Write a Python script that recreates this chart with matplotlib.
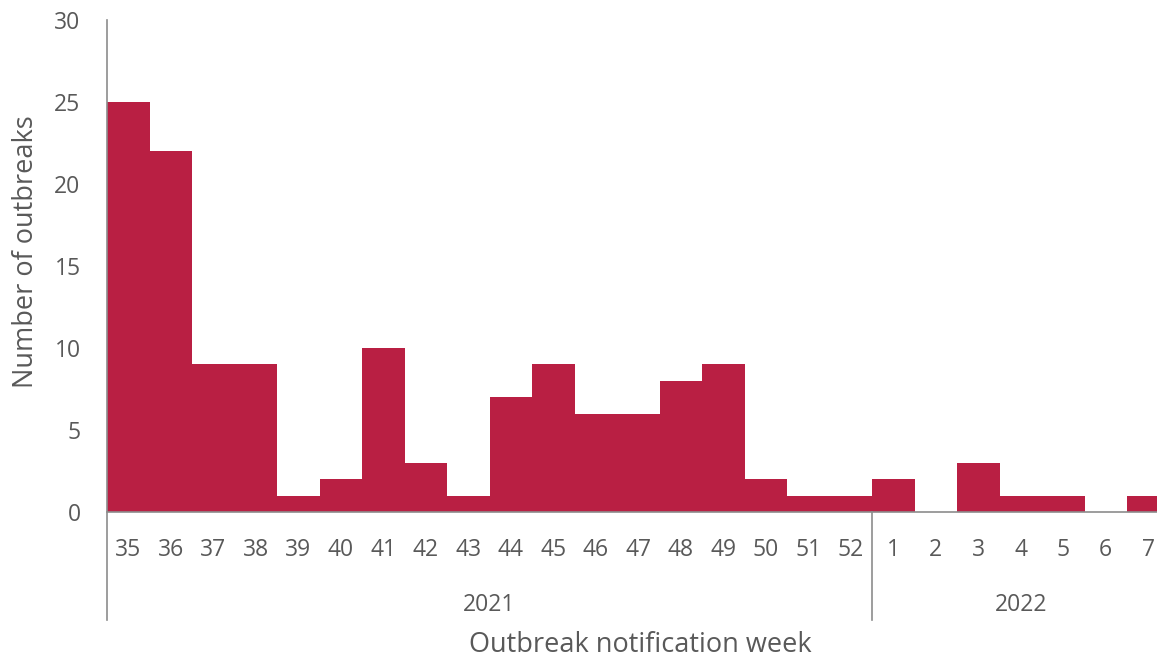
import matplotlib
matplotlib.use("Agg")
import matplotlib.pyplot as plt
import matplotlib.transforms as mtransforms
from matplotlib.lines import Line2D

plt.rcParams['font.family'] = ['Open Sans', 'DejaVu Sans']

# data
weeks_2021 = [35, 36, 37, 38, 39, 40, 41, 42, 43, 44, 45, 46, 47, 48, 49, 50, 51, 52]
weeks_2022 = [1, 2, 3, 4, 5, 6, 7]
counts_2021 = [25, 22, 9, 9, 1, 2, 10, 3, 1, 7, 9, 6, 6, 8, 9, 2, 1, 1]
counts_2022 = [2, 0, 3, 1, 1, 0, 1]
years = ["2021", "2022"]

labels = [str(w) for w in weeks_2021 + weeks_2022]
counts = counts_2021 + counts_2022
x = list(range(len(counts)))

bar_color = '#B91F43'
text_color = '#595959'
axis_color = '#8C8C8C'
tick_fs = 16.5
label_fs = 19.5

W, H = 1157, 661
fig = plt.figure(figsize=(W / 100, H / 100), dpi=100)
ax = fig.add_axes([107 / W, 149 / H, 1062.5 / W, 492 / H])

ax.bar(x, counts, width=1.0, color=bar_color, linewidth=0)

ax.set_xlim(-0.5, len(counts) - 0.5)
ax.set_ylim(0, 30)
ax.set_yticks(range(0, 31, 5))
ax.tick_params(axis='y', length=0, pad=19, labelsize=tick_fs, labelcolor=text_color)
ax.set_xticks([])

for s in ['top', 'right', 'left']:
    ax.spines[s].set_visible(False)
ax.spines['bottom'].set_color(axis_color)
ax.spines['bottom'].set_linewidth(1.2)

trans = mtransforms.blended_transform_factory(ax.transData, ax.transAxes)
low = -108 / 492

# left axis line running down through the category area
ax.add_line(Line2D([-0.5, -0.5], [low, 1.0], transform=trans, color=axis_color,
                   lw=1.2, clip_on=False))
# separator between the years
n21 = len(weeks_2021)
ax.add_line(Line2D([n21 - 0.5, n21 - 0.5], [low, 0], transform=trans, color=axis_color,
                   lw=1.2, clip_on=False))

for xi, lab in zip(x, labels):
    ax.text(xi, -38 / 492, lab, transform=trans, ha='center', va='center',
            fontsize=tick_fs, color=text_color)

year_centers = [(n21 - 1) / 2, n21 + (len(weeks_2022) - 1) / 2]
for xc, yr in zip(year_centers, years):
    ax.text(xc, -93 / 492, yr, transform=trans, ha='center', va='center',
            fontsize=tick_fs, color=text_color)

fig.text(640 / W, 1 - 645 / H, 'Outbreak notification week', ha='center', va='center',
         fontsize=label_fs, color=text_color)
fig.text(26 / W, 1 - 252 / H, 'Number of outbreaks', ha='center', va='center',
         rotation=90, fontsize=label_fs, color=text_color)

fig.savefig('out.png', dpi=100)
